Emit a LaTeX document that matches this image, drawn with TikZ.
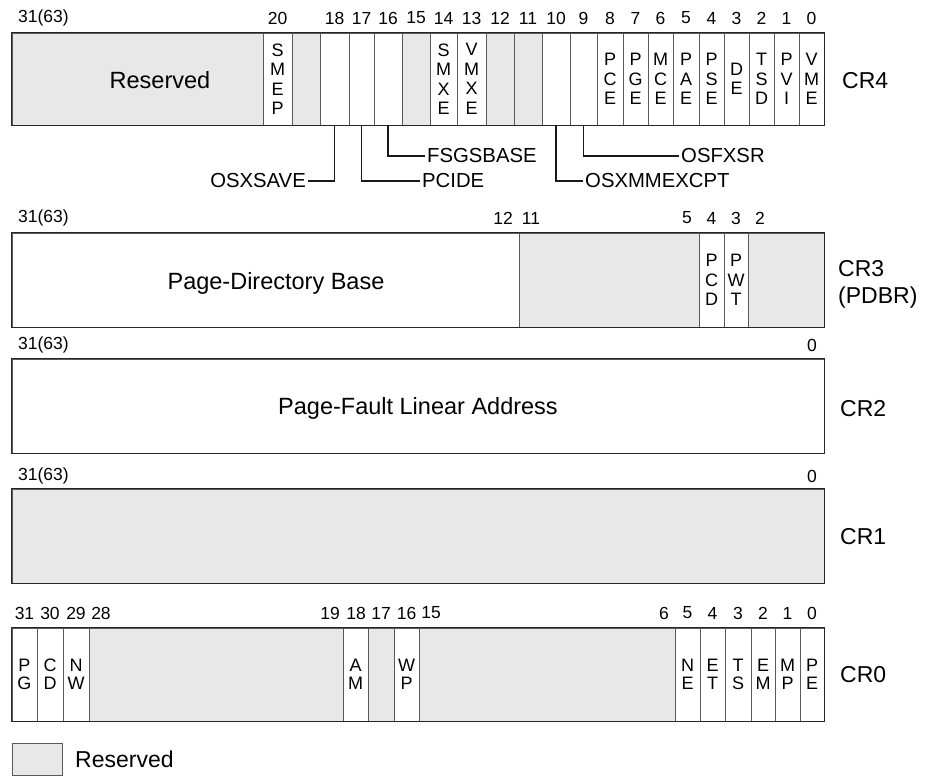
\documentclass[tikz,border=0pt]{standalone}
\usepackage{fontspec}
\setmainfont{Liberation Sans}
\definecolor{resgray}{RGB}{232,232,232}
\definecolor{divgray}{RGB}{90,90,90}
\newcommand\cellfont{\fontsize{18}{19.5}\selectfont}
\newcommand\cellfontb{\fontsize{18}{18}\selectfont}
\newcommand\numfont{\fontsize{17.5}{20}\selectfont}
\newcommand\bigfont{\fontsize{23.5}{28}\selectfont}
\newcommand\regfont{\fontsize{23}{27}\selectfont}
\newcommand\callfont{\fontsize{20.3}{24}\selectfont}
\tikzset{
  cellbox/.style={draw=divgray,line width=0.9pt,inner sep=0pt,align=center,font=\cellfont},
  cellboxb/.style={cellbox,font=\cellfontb},
  regframe/.style={draw=black!85,line width=1.5pt},
  bitnum/.style={font=\numfont,inner sep=0pt},
  bigtext/.style={font=\bigfont,inner sep=0pt},
  reglabel/.style={font=\regfont,inner sep=0pt,anchor=west,align=left},
  callout/.style={font=\callfont,inner sep=2pt},
  conn/.style={line width=1.4pt,black!90}
}
\newcommand\rcell[7]{\node[cellbox,fill=#6,minimum width={#3-#2},minimum height={#5-#4}] (#1) at ({(#2+#3)/2},{(#4+#5)/2}) {#7};}
\newcommand\rcellb[7]{\node[cellboxb,fill=#6,minimum width={#3-#2},minimum height={#5-#4}] (#1) at ({(#2+#3)/2},{(#4+#5)/2}) {#7};}
\newcommand\bn[4]{\node[bitnum] (#1) at (#2,#3) {#4};}
\begin{document}
\begin{tikzpicture}[x=1pt,y=-1pt]
\useasboundingbox (0,0) rectangle (926,783);
% ---------------- CR4 ----------------
\rcell{r4res}{12}{263}{33}{125}{resgray}{}
\rcell{r4b20}{263}{292}{33}{125}{white}{S\\M\\E\\P}
\rcell{r4b19}{292}{320}{33}{125}{resgray}{}
\rcell{r4b18}{320}{349}{33}{125}{white}{}
\rcell{r4b17}{349}{374}{33}{125}{white}{}
\rcell{r4b16}{374}{402}{33}{125}{white}{}
\rcell{r4b15}{402}{430}{33}{125}{resgray}{}
\rcell{r4b14}{430}{457}{33}{125}{white}{S\\M\\X\\E}
\rcell{r4b13}{457}{486}{33}{125}{white}{V\\M\\X\\E}
\rcell{r4b12}{486}{514}{33}{125}{resgray}{}
\rcell{r4b11}{514}{542}{33}{125}{resgray}{}
\rcell{r4b10}{542}{570}{33}{125}{white}{}
\rcell{r4b9}{570}{597}{33}{125}{white}{}
\rcell{r4b8}{597}{623}{33}{125}{white}{P\\C\\E}
\rcell{r4b7}{623}{648}{33}{125}{white}{P\\G\\E}
\rcell{r4b6}{648}{673}{33}{125}{white}{M\\C\\E}
\rcell{r4b5}{673}{699}{33}{125}{white}{P\\A\\E}
\rcell{r4b4}{699}{724}{33}{125}{white}{P\\S\\E}
\rcell{r4b3}{724}{749}{33}{125}{white}{D\\E}
\rcell{r4b2}{749}{774}{33}{125}{white}{T\\S\\D}
\rcell{r4b1}{774}{799}{33}{125}{white}{P\\V\\I}
\rcell{r4b0}{799}{824}{33}{125}{white}{V\\M\\E}
\draw[regframe] (r4res.north west) rectangle (r4b0.south east);
\node[bigtext] (r4restxt) at (160,80) {Reserved};
\node[reglabel] (cr4) at (842,81) {CR4};
\node[bitnum,anchor=west] (n4a) at (18,18) {31(63)};
\bn{n4b}{277.5}{18}{20}
\bn{n4c}{334.5}{18}{18}
\bn{n4d}{361.5}{18}{17}
\bn{n4e}{388}{18}{16}
\bn{n4f}{416}{18}{15}
\bn{n4g}{443.5}{18}{14}
\bn{n4h}{471.5}{18}{13}
\bn{n4i}{500}{18}{12}
\bn{n4j}{528}{18}{11}
\bn{n4k}{556}{18}{10}
\bn{n4l}{583.5}{18}{9}
\bn{n4m}{610}{18}{8}
\bn{n4n}{635.5}{18}{7}
\bn{n4o}{660.5}{18}{6}
\bn{n4p}{686}{18}{5}
\bn{n4q}{711.5}{18}{4}
\bn{n4r}{736.5}{18}{3}
\bn{n4s}{761.5}{18}{2}
\bn{n4t}{786.5}{18}{1}
\bn{n4u}{811.5}{18}{0}
% callouts
\node[callout,anchor=east] (osxsave) at (308,181) {OSXSAVE};
\node[callout,anchor=west] (pcide) at (420,181) {PCIDE};
\node[callout,anchor=west] (fsgs) at (425,156) {FSGSBASE};
\node[callout,anchor=west] (osxmm) at (583,181) {OSXMMEXCPT};
\node[callout,anchor=west] (osfxsr) at (679,156) {OSFXSR};
\draw[conn] (r4b18.south) |- (osxsave.east);
\draw[conn] (r4b17.south) |- (pcide.west);
\draw[conn] (r4b16.south) |- (fsgs.west);
\draw[conn] (r4b10.south) |- (osxmm.west);
\draw[conn] (r4b9.south) |- (osfxsr.west);
% ---------------- CR3 ----------------
\rcell{r3base}{12}{519}{233}{327}{white}{}
\rcell{r3res}{519}{699}{233}{327}{resgray}{}
\rcell{r3pcd}{699}{724}{233}{327}{white}{P\\C\\D}
\rcell{r3pwt}{724}{748}{233}{327}{white}{P\\W\\T}
\rcell{r3low}{748}{824}{233}{327}{resgray}{}
\draw[regframe] (r3base.north west) rectangle (r3low.south east);
\node[bigtext] (r3txt) at (276,283) {Page-Directory Base};
\node[reglabel] (cr3) at (838,284) {CR3\\(PDBR)};
\node[bitnum,anchor=west] (n3a) at (18,218) {31(63)};
\bn{n3b}{503}{218}{12}
\bn{n3c}{531}{218}{11}
\bn{n3d}{687}{218}{5}
\bn{n3e}{711.5}{218}{4}
\bn{n3f}{736}{218}{3}
\bn{n3g}{760}{218}{2}
% ---------------- CR2 ----------------
\rcell{r2}{12}{824}{359}{453}{white}{}
\draw[regframe] (r2.north west) rectangle (r2.south east);
\node[bigtext] (r2txt) at (418,408) {Page-Fault Linear Address};
\node[reglabel] (cr2) at (840,409) {CR2};
\node[bitnum,anchor=west] (n2a) at (18,345) {31(63)};
\bn{n2b}{812}{345}{0}
% ---------------- CR1 ----------------
\rcell{r1}{12}{824}{489}{583}{resgray}{}
\draw[regframe] (r1.north west) rectangle (r1.south east);
\node[reglabel] (cr1) at (840,537) {CR1};
\node[bitnum,anchor=west] (n1a) at (18,476) {31(63)};
\bn{n1b}{812}{476}{0}
% ---------------- CR0 ----------------
\rcellb{r0pg}{12}{37}{628}{721}{white}{P\\G}
\rcellb{r0cd}{37}{63}{628}{721}{white}{C\\D}
\rcellb{r0nw}{63}{89}{628}{721}{white}{N\\W}
\rcellb{r0resa}{89}{343}{628}{721}{resgray}{}
\rcellb{r0am}{343}{368}{628}{721}{white}{A\\M}
\rcellb{r0resb}{368}{394}{628}{721}{resgray}{}
\rcellb{r0wp}{394}{419}{628}{721}{white}{W\\P}
\rcellb{r0resc}{419}{675}{628}{721}{resgray}{}
\rcellb{r0ne}{675}{700}{628}{721}{white}{N\\E}
\rcellb{r0et}{700}{725}{628}{721}{white}{E\\T}
\rcellb{r0ts}{725}{751}{628}{721}{white}{T\\S}
\rcellb{r0em}{751}{775}{628}{721}{white}{E\\M}
\rcellb{r0mp}{775}{800}{628}{721}{white}{M\\P}
\rcellb{r0pe}{800}{824}{628}{721}{white}{P\\E}
\draw[regframe] (r0pg.north west) rectangle (r0pe.south east);
\node[reglabel] (cr0) at (840,675) {CR0};
\bn{n0a}{24.5}{613}{31}
\bn{n0b}{50}{613}{30}
\bn{n0c}{76}{613}{29}
\bn{n0d}{101}{613}{28}
\bn{n0e}{330}{613}{19}
\bn{n0f}{356}{613}{18}
\bn{n0g}{381}{613}{17}
\bn{n0h}{406.5}{613}{16}
\bn{n0i}{431}{613}{15}
\bn{n0j}{664}{613}{6}
\bn{n0k}{687.5}{613}{5}
\bn{n0l}{712.5}{613}{4}
\bn{n0m}{738}{613}{3}
\bn{n0n}{763}{613}{2}
\bn{n0o}{787.5}{613}{1}
\bn{n0p}{812}{613}{0}
% ---------------- legend ----------------
\node[draw=divgray,line width=1pt,fill=resgray,minimum width=50pt,minimum height=32pt,inner sep=0pt] (legbox) at (37,759) {};
\node[reglabel] (legtxt) at (75,759) {Reserved};
\end{tikzpicture}
\end{document}
